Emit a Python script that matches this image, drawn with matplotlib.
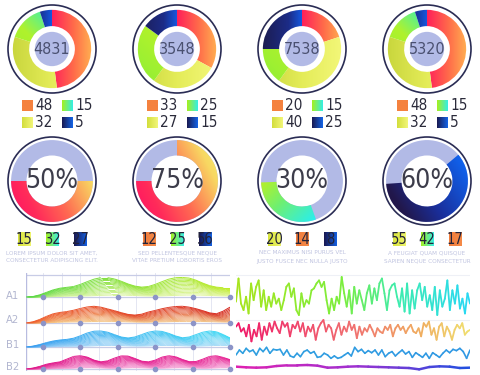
import numpy as np
import matplotlib
matplotlib.use('Agg')
import matplotlib.pyplot as plt
import matplotlib.font_manager as fm
from matplotlib.patches import Wedge, Circle
from matplotlib.colors import LinearSegmentedColormap, to_rgb
from matplotlib.collections import LineCollection

# ---- data ----
top_totals = [4831, 3548, 7538, 5320]
top_shares = [[48, 32, 15, 5], [33, 27, 25, 15], [20, 40, 15, 25], [48, 32, 15, 5]]

bottom_pcts = [50, 75, 30, 60]
bottom_nums = [[15, 32, 27], [12, 25, 56], [20, 14, 8], [55, 42, 17]]
bottom_kinds = [['y', 'g', 'n'], ['o', 'g', 'n'], ['y', 'o', 'n'], ['y', 'g', 'o']]
bottom_captions = [("LOREM IPSUM DOLOR SIT AMET,", "CONSECTETUR ADIPISCING ELIT."),
                   ("SED PELLENTESQUE NEQUE", "VITAE PRETIUM LOBORTIS EROS"),
                   ("NEC MAXIMUS NISI PURUS VEL", "JUSTO FUSCE NEC NULLA JUSTO"),
                   ("A FEUGIAT QUAM QUISQUE", "SAPIEN NEQUE CONSECTETUR")]

wave_labels = ['A1', 'A2', 'B1', 'B2']
wave_a1 = [0.0, 0.02, 0.10, 0.22, 0.34, 0.42, 0.46, 0.50, 0.60, 0.73, 0.85, 0.92, 0.92, 0.86, 0.75, 0.62,
           0.52, 0.47, 0.50, 0.60, 0.73, 0.85, 0.92, 0.93, 0.90, 0.80, 0.66, 0.54, 0.47, 0.44, 0.44]
wave_a2 = [0.0, 0.05, 0.16, 0.30, 0.42, 0.48, 0.52, 0.58, 0.66, 0.73, 0.76, 0.72, 0.64, 0.56, 0.47, 0.39,
           0.36, 0.40, 0.50, 0.57, 0.65, 0.71, 0.75, 0.76, 0.72, 0.65, 0.56, 0.46, 0.42, 0.54, 0.72]
wave_b1 = [0.0, 0.04, 0.12, 0.22, 0.30, 0.35, 0.38, 0.44, 0.56, 0.70, 0.79, 0.80, 0.74, 0.62, 0.50, 0.45,
           0.50, 0.62, 0.74, 0.80, 0.78, 0.68, 0.55, 0.46, 0.50, 0.62, 0.74, 0.80, 0.76, 0.62, 0.45]
wave_b2 = [0.0, 0.05, 0.15, 0.28, 0.36, 0.42, 0.58, 0.74, 0.78, 0.70, 0.52, 0.42, 0.48, 0.64, 0.77, 0.76,
           0.62, 0.46, 0.42, 0.52, 0.70, 0.78, 0.72, 0.56, 0.43, 0.44, 0.58, 0.74, 0.78, 0.68, 0.55]

noise_green = [35, 96, 30, 13, 48, 4, 83, 39, 74, 91, 22, 65, 13, 48, 22, 57, 30, 43, 13, 39, 74, 83, 48, 70,
               13, 0, 57, 22, 39, 30, 65, 70, 83, 91, 74, 87, 39, 4, 43, 13, 48, 30, 100, 57, 22, 65, 4, 74,
               30, 65, 39, 13, 57, 78, 30, 70, 39, 83, 96, 57, 13, 65, 78, 83, 48, 22, 70, 9, 83, 4, 65, 17,
               65, 83, 39, 74, 22, 52, 13, 74, 0, 65, 22, 43, 91, 13, 65, 30, 78, 17, 43, 4, 57, 30]
noise_pink = [71, 86, 50, 64, 29, 79, 7, 57, 29, 86, 14, 71, 36, 86, 50, 93, 64, 43, 93, 71, 86, 29, 79, 64,
              93, 50, 86, 29, 71, 50, 79, 14, 64, 86, 100, 50, 79, 64, 14, 57, 86, 36, 71, 50, 93, 57, 79, 21,
              71, 36, 64, 50, 79, 57, 29, 64, 50, 43, 71, 57, 79, 29, 64, 79, 57, 71, 43, 64, 79, 50, 43, 64,
              29, 86, 71, 93, 36, 64, 14, 71, 86, 29, 71, 50, 14, 57, 79, 64, 86, 36, 50, 57]
noise_blue = [36, 71, 48, 83, 60, 71, 36, 83, 60, 90, 48, 76, 71, 76, 36, 71, 29, 19, 48, 24, 60, 71, 48, 60,
              19, 24, 48, 36, 12, 29, 12, 19, 36, 52, 29, 90, 60, 76, 48, 67, 52, 71, 36, 71, 24, 48, 60, 29,
              52, 71, 43, 60, 19, 52, 36, 19, 48, 12, 52, 36, 19, 48, 71, 52, 76, 67, 83, 60, 12, 71]
noise_purple = [10, 8, 7, 8, 12, 14, 14, 15, 13, 7, 8, 10, 11, 10, 9, 8, 7, 6, 2, 9, 11, 10, 6, 7]


def pick_narrow():
    fonts = fm.fontManager.ttflist
    regular = (400, 'normal', 'regular', 'book')
    for f in fonts:
        if f.name == 'Liberation Sans Narrow' and f.weight in regular and f.style == 'normal':
            return fm.FontProperties(fname=f.fname)
    for f in fonts:
        if f.name == 'DejaVu Sans' and f.stretch == 'condensed' and f.weight in regular and f.style == 'normal':
            return fm.FontProperties(fname=f.fname)
    for f in fonts:
        if 'Condensed' in f.name or 'Narrow' in f.name:
            return fm.FontProperties(fname=f.fname)
    return fm.FontProperties(family='DejaVu Sans')


NF = pick_narrow()

# ---- styling ----
W, H = 480, 375
LAV = '#b2bae6'
RING_EDGE = '#2a2c54'
donut_x = [52, 177, 302, 427]
top_y, bottom_y = 49, 181
R_PX = 44

CAT_GRAD = [
    ([(0, '#ff1a5e'), (0.5, '#ff1f5a'), (0.75, '#ff6c4a'), (1, '#ffbe52')], (1, 0)),
    ([(0, '#c6d43a'), (0.5, '#e4ec58'), (1, '#f4f87c')], (1, 0)),
    ([(0, '#88ee38'), (0.45, '#b0f22c'), (0.7, '#3cf0b0'), (1, '#20e8f0')], (1, 1)),
    ([(0, '#1c1a48'), (0.35, '#1c2c88'), (0.5, '#1458e0'), (1, '#10a0f0')], (1, 0)),
]
SWATCH = [['#f5823f', '#f5823f'], ['#d2de3c', '#f2f678'], ['#a6f01e', '#34eee6'], ['#1a1a52', '#1464e6']]
BOT_GRAD = [
    ([(0, '#ff0a66'), (0.25, '#ff2a5a'), (0.5, '#ff6a52'), (0.8, '#f8d862'), (1, '#f4f070')], (0.8, 0.4)),
    ([(0, '#ff0a66'), (0.25, '#ff2a5a'), (0.5, '#ff6a52'), (0.8, '#f8d862'), (1, '#f4f070')], (0.8, 0.4)),
    ([(0, '#d0f018'), (0.25, '#bef020'), (0.5, '#70f070'), (0.8, '#28eef0'), (1, '#20e8f8')], (0.7, -0.7)),
    ([(0, '#1e0e3a'), (0.2, '#22184c'), (0.45, '#1a2e9a'), (0.85, '#1064f0'), (1, '#1070f8')], (0.8, 0.5)),
]
bottom_start = [90, 0, 160, 50]
BOX = {'y': ['#d8e43c', '#eef46c'], 'g': ['#a4f020', '#38eee8'],
       'n': ['#1a1850', '#1460e0'], 'o': ['#f07c3c', '#f58a48']}

fig = plt.figure(figsize=(4.8, 3.75), dpi=100)


def add_px_axes(x0, y0, w, h):
    return fig.add_axes([x0 / W, 1 - (y0 + h) / H, w / W, h / H])


def gradient_fill(ax, stops, direction, clip):
    g = np.linspace(-1, 1, 200)
    X, Y = np.meshgrid(g, g)
    dx, dy = direction
    t = ((X * dx + Y * dy) / (abs(dx) + abs(dy)) + 1) / 2
    cmap = LinearSegmentedColormap.from_list('g', stops)
    im = ax.imshow(t, cmap=cmap, vmin=0, vmax=1, extent=(-1, 1, -1, 1), origin='lower',
                   zorder=2, interpolation='bilinear')
    im.set_clip_path(clip)


def arc_patch(ax, a1, a2, r_out, r_in):
    w = Wedge((0, 0), r_out, 90 - a2, 90 - a1, width=r_out - r_in, fc='none', ec='none')
    ax.add_patch(w)
    return w


def donut_axes(cx, cy):
    ax = add_px_axes(cx - 1.06 * R_PX, cy - 1.06 * R_PX, 2.12 * R_PX, 2.12 * R_PX)
    ax.axis('off')
    return ax


def finish_donut(ax):
    ax.add_patch(Circle((0, 0), 1.0, fill=False, ec=RING_EDGE, lw=1.2, zorder=4))
    ax.set_xlim(-1.06, 1.06)
    ax.set_ylim(-1.06, 1.06)
    ax.set_aspect('equal')


def swatch(ax, x0, y0, w, h, colors, zorder=3):
    cmap = LinearSegmentedColormap.from_list('s', colors)
    ax.imshow(np.linspace(0, 1, 50)[None, :], cmap=cmap, extent=(x0, x0 + w, y0 + h, y0),
              aspect='auto', zorder=zorder)


ax0 = fig.add_axes([0, 0, 1, 1])
ax0.axis('off')

# ---- top donuts ----
for i, cx in enumerate(donut_x):
    ax = donut_axes(cx, top_y)
    shares = top_shares[i]
    edges = np.concatenate([[0], np.cumsum(shares)]) * 360 / sum(shares)
    for c in range(len(shares)):
        w = arc_patch(ax, edges[c], edges[c + 1], 0.89, 0.52)
        gradient_fill(ax, CAT_GRAD[c][0], CAT_GRAD[c][1], w)
    ax.add_patch(Circle((0, 0), 0.39, fc=LAV, ec='none', zorder=3))
    ax.text(0, 0, str(top_totals[i]), ha='center', va='center', fontproperties=NF, fontsize=11.5,
            color='#4a5070', zorder=5)
    finish_donut(ax)

    for c in range(4):
        col, row = c // 2, c % 2
        sx = cx - 30 if col == 0 else cx + 10
        sy = 100 + row * 17
        swatch(ax0, sx, sy, 11, 11, SWATCH[c])
        ax0.text(sx + 13, sy + 5.5, str(shares[c]), ha='left', va='center', fontproperties=NF,
                 fontsize=11, color='#2a2a3a')

# ---- bottom donuts ----
for i, cx in enumerate(donut_x):
    ax = donut_axes(cx, bottom_y)
    ax.add_patch(Wedge((0, 0), 0.93, 0, 360, width=0.93 - 0.58, fc=LAV, ec='none', zorder=1))
    a1 = bottom_start[i]
    a2 = a1 + bottom_pcts[i] * 360 / 100
    w = arc_patch(ax, a1, a2, 0.93, 0.58)
    gradient_fill(ax, BOT_GRAD[i][0], BOT_GRAD[i][1], w)
    ax.text(0, 0, f"{bottom_pcts[i]}%", ha='center', va='center', fontproperties=NF, fontsize=19,
            color='#3c3c4a', zorder=5)
    finish_donut(ax)

    for j, (num, kind) in enumerate(zip(bottom_nums[i], bottom_kinds[i])):
        bx = cx + (j - 1) * 28
        swatch(ax0, bx - 6.5, 232, 13, 14, BOX[kind])
        ax0.text(bx, 239.5, str(num), ha='center', va='center', fontproperties=NF, fontsize=10.5,
                 color='#23233a', zorder=4)
    for k, line in enumerate(bottom_captions[i]):
        ax0.text(cx, 253 + k * 8, line, ha='center', va='center', fontproperties=NF, fontsize=4.6,
                 color='#c0c4e0')

ax0.set_xlim(0, W)
ax0.set_ylim(H, 0)

# ---- layered waves ----
axw = add_px_axes(26, 273, 204, 98)
axw.set_xlim(0, 1)
axw.set_ylim(0, 98)
axw.axis('off')
baselines = [74, 48, 24, 2]
amps = [21, 22, 20, 17]
wave_colors = [('#58d848', '#c0ec28', '#e8f8b0'),
               ('#f0602c', '#d62820', '#f8dc98'),
               ('#3a9cf0', '#40dcf4', '#b8dcf8'),
               ('#e0188a', '#e82494', '#f8b8e2')]
grid_x = 0.083 + 0.0917 * np.arange(11)
for gx in grid_x:
    axw.axvline(gx, color='#e4e6f2', lw=0.7, zorder=0)
for yb in baselines + [96]:
    axw.axhline(yb, color='#c8cce6', lw=0.9, zorder=1)
axw.axvline(0.002, color='#b8bce0', lw=1.0, zorder=1)

for wv, b, A, (cl, cr, cb) in zip([wave_a1, wave_a2, wave_b1, wave_b2], baselines, amps, wave_colors):
    v = np.array(wv)
    x = np.linspace(0, 1, len(v))
    cl, cr, cb = np.array(to_rgb(cl)), np.array(to_rgb(cr)), np.array(to_rgb(cb))
    for k in np.linspace(0.1, 1.0, 14):
        xs = x + (1 - k) * 0.06
        ys = b + A * k * v
        pts = np.column_stack([xs, ys])
        segs = np.stack([pts[:-1], pts[1:]], axis=1)
        xm = ((xs[:-1] + xs[1:]) / 2).clip(0, 1)[:, None]
        top = cl * (1 - xm) + cr * xm
        f = (1 - k) / 0.9 * 0.85
        cols = top * (1 - f) + cb * f
        axw.add_collection(LineCollection(segs, colors=cols, lw=0.7, zorder=3))

for yb in baselines:
    axw.plot(grid_x[::2], [yb] * len(grid_x[::2]), 'o', ms=3, color='#8c94c8', zorder=5, clip_on=False)

for lab, yb in zip(wave_labels, [296, 320, 345, 367]):
    fig.text(13 / W, 1 - yb / H, lab, ha='center', va='center', fontproperties=NF, fontsize=8,
             color='#b2b6d0')

# ---- noisy lines ----
axn = add_px_axes(236, 272, 234, 100)
axn.set_xlim(0, 1)
axn.set_ylim(0, 100)
axn.axis('off')
for gy in [97, 52]:
    axn.axhline(gy, color='#eef0f6', lw=0.8, zorder=0)


def gradient_line(ax, vals, base, scale, stops, lw):
    v = np.array(vals, dtype=float)
    x = np.linspace(0, 1, len(v))
    y = base + v * scale
    pts = np.column_stack([x, y])
    segs = np.stack([pts[:-1], pts[1:]], axis=1)
    cmap = LinearSegmentedColormap.from_list('l', stops)
    lc = LineCollection(segs, colors=cmap((x[:-1] + x[1:]) / 2), lw=lw, capstyle='round',
                        joinstyle='round', zorder=3)
    ax.add_collection(lc)


gradient_line(axn, noise_green, 57, 0.38,
              [(0, '#a8e41c'), (0.45, '#7cee3c'), (0.7, '#3cecb0'), (1, '#28d8f4')], 1.3)
gradient_line(axn, noise_pink, 29, 0.23,
              [(0, '#f01868'), (0.5, '#f07070'), (0.8, '#f0b060'), (1, '#f0e070')], 1.3)
gradient_line(axn, noise_blue, 12, 0.14, [(0, '#30a0e0'), (1, '#3098e4')], 1.2)
gradient_line(axn, noise_purple, 2, 1 / 3, [(0, '#e020b0'), (0.5, '#a030d0'), (1, '#2050e0')], 1.8)

fig.savefig('out.png', dpi=100)
